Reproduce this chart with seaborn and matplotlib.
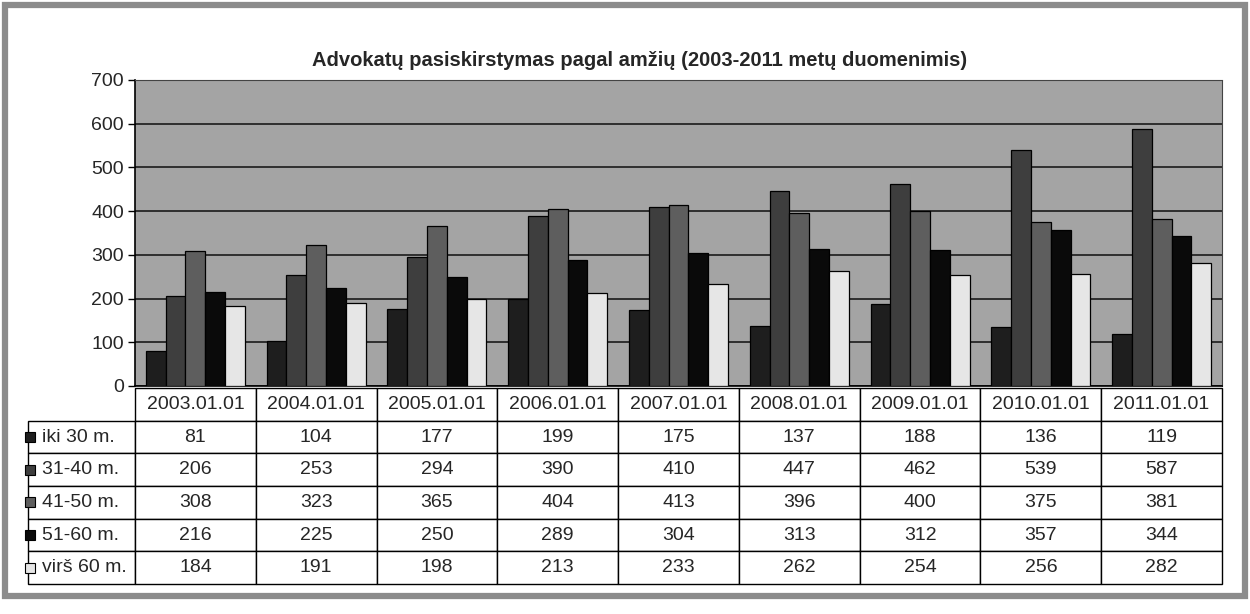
import numpy as np
import pandas as pd
import matplotlib
matplotlib.use("Agg")
import matplotlib.pyplot as plt
from matplotlib.patches import Rectangle
import seaborn as sns

# ---- data ----
dates = ["2003.01.01", "2004.01.01", "2005.01.01", "2006.01.01", "2007.01.01",
         "2008.01.01", "2009.01.01", "2010.01.01", "2011.01.01"]
groups = ["iki 30 m.", "31-40 m.", "41-50 m.", "51-60 m.", "virš 60 m."]
iki30 = [81, 104, 177, 199, 175, 137, 188, 136, 119]
m31_40 = [206, 253, 294, 390, 410, 447, 462, 539, 587]
m41_50 = [308, 323, 365, 404, 413, 396, 400, 375, 381]
m51_60 = [216, 225, 250, 289, 304, 313, 312, 357, 344]
virs60 = [184, 191, 198, 213, 233, 262, 254, 256, 282]
yticks = [0, 100, 200, 300, 400, 500, 600, 700]
title = "Advokatų pasiskirstymas pagal amžių (2003-2011 metų duomenimis)"

series = [iki30, m31_40, m41_50, m51_60, virs60]
colors = ["#1e1e1e", "#3e3e3e", "#5e5e5e", "#0a0a0a", "#e6e6e6"]

df = pd.DataFrame({
    "date": np.repeat([dates], len(groups), axis=0).ravel(),
    "group": np.repeat(groups, len(dates)),
    "value": np.concatenate(series),
})

sns.set_theme(style="white")
plt.rcParams["font.family"] = ["Liberation Sans", "DejaVu Sans"]

W, H = 1250, 614
fig = plt.figure(figsize=(W / 100, H / 100), dpi=100)
fig.patch.set_facecolor("white")

# axes geometry in pixels
ax_l, ax_r, ax_t, ax_b = 135, 1222, 80, 386
ax = fig.add_axes([ax_l / W, 1 - ax_b / H, (ax_r - ax_l) / W, (ax_b - ax_t) / H])
ax.set_facecolor("#a4a4a4")

sns.barplot(data=df, x="date", y="value", hue="group", hue_order=groups,
            palette=colors, saturation=1, edgecolor="black", linewidth=0.9,
            width=0.82, ax=ax, legend=False, zorder=3)

ax.set_ylim(0, 700)
ax.set_yticks(yticks)
ax.set_yticklabels([str(v) for v in yticks], fontsize=14)
ax.set_xticks([])
ax.set_xlabel("")
ax.set_ylabel("")
ax.yaxis.grid(True, color="#1a1a1a", linewidth=1.2, zorder=0)
ax.set_axisbelow(True)
ax.tick_params(axis="y", length=5, width=1, color="black", pad=3, left=True)
for s in ["top", "right"]:
    ax.spines[s].set_color("#444444")
    ax.spines[s].set_linewidth(0.8)
    ax.spines[s].set_linestyle((0, (2, 1)))
ax.spines["left"].set_color("black")
ax.spines["left"].set_linewidth(1.2)
ax.spines["bottom"].set_color("black")
ax.spines["bottom"].set_linewidth(1.2)

# ---- data table (bbox covers header + data grid; row labels sit to its left) ----
tb_t, tb_b = 388, 584
axw, axh = ax_r - ax_l, ax_b - ax_t
bbox = [0, -(tb_b - ax_b) / axh, 1, (tb_b - tb_t) / axh]
cell_text = [[str(v) for v in s] for s in series]
colw = 1.0 / len(dates)
col_px = axw / len(dates)
rowlab_target = 113          # desired row-label column width in pixels
rowlab_param = rowlab_target * (113 / 104) * (113 / 108)
tbl = ax.table(cellText=cell_text, rowLabels=groups,
               colLabels=dates, colWidths=[colw] * len(dates),
               rowLoc="left", cellLoc="center", colLoc="center",
               bbox=bbox)
tbl.auto_set_font_size(False)
tbl.set_fontsize(14)
for (r, c), cell in tbl.get_celld().items():
    cell.set_edgecolor("black")
    cell.set_linewidth(1.0)
    cell.set_facecolor("white")
    if c == -1:
        cell.set_width(colw * rowlab_param / col_px)
        cell.PAD = 0.13

# legend keys in row labels
row_h = (tb_b - tb_t) / (len(groups) + 1)
key_x = ax_l - rowlab_target + 3
for i, col in enumerate(colors):
    yc = tb_t + row_h * (i + 1) + row_h / 2
    fig.add_artist(Rectangle((key_x / W, 1 - (yc + 5) / H), 10 / W, 10 / H,
                             transform=fig.transFigure, facecolor=col,
                             edgecolor="black", linewidth=0.8))

# title
fig.text(640 / W, 1 - 60 / H, title, ha="center", va="center",
         fontsize=14.5, fontweight="bold")

# outer frame
fig.add_artist(Rectangle((5 / W, 1 - 596 / H), 1240 / W, 591 / H,
                         transform=fig.transFigure, fill=False,
                         edgecolor="#8c8c8c", linewidth=4.5))

fig.savefig("out.png", dpi=100)
